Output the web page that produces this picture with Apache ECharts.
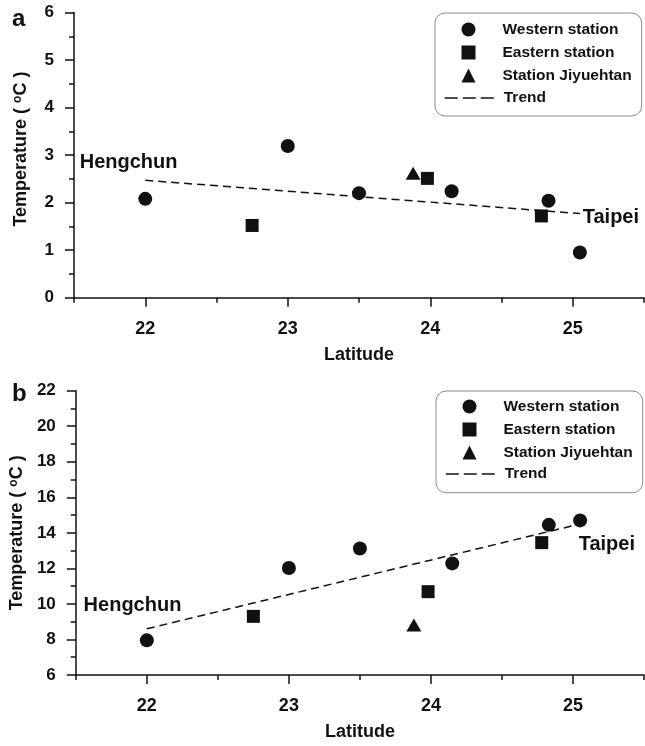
<!DOCTYPE html>
<html>
<head>
<meta charset="utf-8">
<script src="https://cdn.jsdelivr.net/npm/echarts@6/dist/echarts.min.js"></script>
<style>
  html, body { margin: 0; padding: 0; background: #fff; }
  #chart { width: 645px; height: 746px; }
</style>
</head>
<body>
<div id="chart"></div>
<script>
// station latitudes
var latWestern = [22.0, 23.0, 23.5, 24.15, 24.83, 25.05];
var latEastern = [22.75, 23.98, 24.78];
var latJiyuehtan = [23.88];
var trendLat = [22.0, 25.05];

// panel a temperatures
var westernA = [2.08, 3.19, 2.2, 2.24, 2.04, 0.95];
var easternA = [1.52, 2.51, 1.72];
var jiyuehtanA = [2.62];
var trendA = [2.47, 1.77];

// panel b temperatures
var westernB = [7.95, 12.02, 13.12, 12.28, 14.45, 14.7];
var easternB = [9.3, 10.69, 13.45];
var jiyuehtanB = [8.81];
var trendB = [8.6, 14.5];

// place names on the trend
var placeNames = ['Hengchun', 'Taipei'];
var placeLatA = [21.54, 25.07];
var placeTempA = [2.84, 1.68];
var placeLatB = [21.555, 25.04];
var placeTempB = [9.94, 13.37];

var xTickLabels = [22, 23, 24, 25];
var stationNames = ['Western station', 'Eastern station', 'Station Jiyuehtan'];
var trendName = 'Trend';

var ink = '#111';
var font = "'Liberation Sans', Arial, sans-serif";

function pairs(xs, ys) {
    return xs.map(function (x, i) { return [x, ys[i]]; });
}

function xAxisFor(gi) {
    return {
        gridIndex: gi,
        type: 'value',
        min: 21.5,
        max: 25.5,
        interval: 1,
        name: 'Latitude',
        nameLocation: 'middle',
        nameGap: 48,
        nameTextStyle: { fontSize: 18, fontWeight: 'bold', color: ink, fontFamily: font },
        axisLine: { onZero: false, lineStyle: { color: ink, width: 1.5 } },
        axisTick: { length: 5, lineStyle: { color: ink, width: 1.5 } },
        minorTick: { show: true, splitNumber: 2, length: 9, lineStyle: { color: ink, width: 1.5 } },
        axisLabel: { customValues: xTickLabels, margin: 22, fontSize: 18, fontWeight: 'bold', color: ink, fontFamily: font },
        splitLine: { show: false },
        minorSplitLine: { show: false }
    };
}

function yAxisFor(gi, min, max, step, padLeft) {
    return {
        gridIndex: gi,
        type: 'value',
        min: min,
        max: max,
        interval: step,
        name: 'Temperature ( {sup|o}C )',
        nameLocation: 'middle',
        nameGap: 44,
        nameTextStyle: {
            fontSize: 18, fontWeight: 'bold', color: ink, fontFamily: font,
            padding: [0, 0, 0, padLeft],
            rich: { sup: { fontSize: 12, fontWeight: 'bold', color: ink, fontFamily: font, verticalAlign: 'top' } }
        },
        axisLine: { onZero: false, lineStyle: { color: ink, width: 1.5 } },
        axisTick: { length: 9, lineStyle: { color: ink, width: 1.5 } },
        minorTick: { show: true, splitNumber: 2, length: 5, lineStyle: { color: ink, width: 1.5 } },
        axisLabel: { margin: 20, fontSize: 17, fontWeight: 'bold', color: ink, fontFamily: font },
        splitLine: { show: false },
        minorSplitLine: { show: false }
    };
}

function seriesFor(gi, west, east, jiy, trend, pLat, pTemp) {
    var solid = { color: ink, opacity: 1 };
    return [{
        name: stationNames[0], type: 'scatter', xAxisIndex: gi, yAxisIndex: gi,
        symbol: 'circle', symbolSize: 14, itemStyle: solid,
        data: pairs(latWestern, west)
    }, {
        name: stationNames[1], type: 'scatter', xAxisIndex: gi, yAxisIndex: gi,
        symbol: 'rect', symbolSize: 13, itemStyle: solid,
        data: pairs(latEastern, east)
    }, {
        name: stationNames[2], type: 'scatter', xAxisIndex: gi, yAxisIndex: gi,
        symbol: 'triangle', symbolSize: [15, 13], itemStyle: solid,
        data: pairs(latJiyuehtan, jiy)
    }, {
        name: trendName, type: 'line', xAxisIndex: gi, yAxisIndex: gi,
        symbol: 'none', itemStyle: solid,
        lineStyle: { color: ink, width: 1.5, type: [8, 5], opacity: 1 },
        data: pairs(trendLat, trend)
    }, {
        name: 'places' + gi, type: 'scatter', xAxisIndex: gi, yAxisIndex: gi,
        symbolSize: 0, silent: true, itemStyle: solid,
        label: {
            show: true, position: 'right', distance: 0,
            formatter: function (p) { return placeNames[p.dataIndex]; },
            fontSize: 20, fontWeight: 'bold', color: ink, opacity: 1, fontFamily: font
        },
        data: pairs(pLat, pTemp)
    }];
}

// framed legend for the three station symbols (frame also covers the trend row)
function stationLegend(left, top, padTop, padBottom) {
    return {
        data: stationNames,
        orient: 'vertical',
        left: left,
        top: top,
        selectedMode: false,
        itemWidth: 14,
        itemHeight: 14,
        itemGap: 7,
        padding: [padTop, 10, padBottom, 26.5],
        borderColor: '#8a8a8a',
        borderWidth: 1,
        borderRadius: 10,
        itemStyle: { opacity: 1 },
        textStyle: { fontSize: 15.5, fontWeight: 'bold', color: ink, fontFamily: font, padding: [0, 0, 0, 22] }
    };
}

function trendLegend(left, top) {
    return {
        data: [trendName],
        orient: 'vertical',
        left: left,
        top: top,
        selectedMode: false,
        itemWidth: 49,
        itemHeight: 14,
        padding: 0,
        itemStyle: { opacity: 0 },
        lineStyle: { color: ink, width: 1.5, type: [13, 5], opacity: 1 },
        textStyle: { fontSize: 15.5, fontWeight: 'bold', color: ink, fontFamily: font, padding: [0, 0, 0, 5] }
    };
}

var chart = echarts.init(document.getElementById('chart'));
var option = {
    animation: false,
    backgroundColor: '#fff',
    title: [
        { text: 'a', left: 7, top: 2, textStyle: { fontSize: 24, fontWeight: 'bold', color: ink, fontFamily: font } },
        { text: 'b', left: 7, top: 377, textStyle: { fontSize: 24, fontWeight: 'bold', color: ink, fontFamily: font } }
    ],
    legend: [
        stationLegend(435, 13, 8.5, 32.5), trendLegend(444, 90),
        stationLegend(436, 391, 7.5, 32.2), trendLegend(445, 466)
    ],
    grid: [
        { left: 74, top: 12.5, width: 570, height: 285.2 },
        { left: 74, top: 390.7, width: 570, height: 284.3 }
    ],
    xAxis: [xAxisFor(0), xAxisFor(1)],
    yAxis: [yAxisFor(0, 0, 6, 1, 12), yAxisFor(1, 6, 22, 2, 0)],
    series: seriesFor(0, westernA, easternA, jiyuehtanA, trendA, placeLatA, placeTempA)
        .concat(seriesFor(1, westernB, easternB, jiyuehtanB, trendB, placeLatB, placeTempB))
};
chart.setOption(option);
</script>
</body>
</html>
